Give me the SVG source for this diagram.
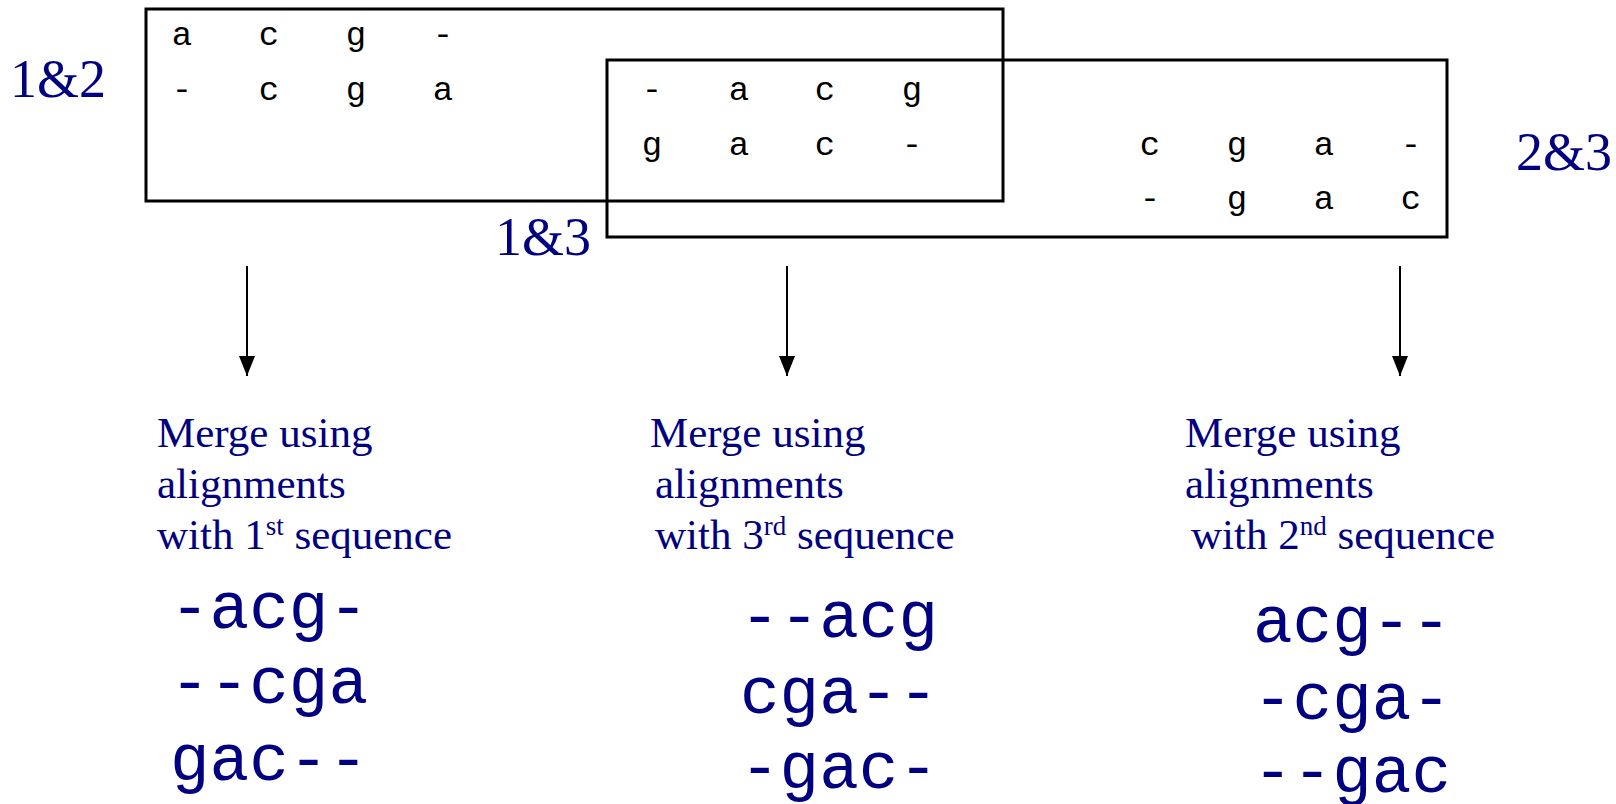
<svg xmlns="http://www.w3.org/2000/svg" width="1616" height="804" viewBox="0 0 1616 804">
  <style>
    .frame { fill: none; stroke: #000; stroke-width: 3; }
    .res { font-family: "Liberation Mono", "DejaVu Sans Mono", monospace; font-size: 34px; fill: #000; text-anchor: middle; }
    .pair { font-family: "Liberation Serif", "Times New Roman", serif; font-size: 54px; fill: #000080; }
    .note { font-family: "Liberation Serif", "Times New Roman", serif; font-size: 43px; fill: #000080; }
    .sup { font-size: 27px; }
    .msa { font-family: "Liberation Mono", "Courier New", monospace; font-size: 66px; fill: #000080; white-space: pre; }
    .link { stroke: #000; stroke-width: 2; fill: none; marker-end: url(#head); }
  </style>
  <defs>
    <marker id="head" markerUnits="userSpaceOnUse" markerWidth="20" markerHeight="20" refX="20" refY="8" orient="auto">
      <path d="M0,0 L20,8 L0,16 Z" fill="#000"/>
    </marker>
  </defs>
  <rect width="1616" height="804" fill="#fff"/>

  <!-- pairwise alignment of sequences 1 and 2 -->
  <g id="align-1-2">
    <rect class="frame" x="146" y="9" width="857" height="192"/>
    <text class="res" y="45"><tspan x="182">a</tspan><tspan x="269">c</tspan><tspan x="356">g</tspan><tspan x="443">-</tspan></text>
    <text class="res" y="100"><tspan x="182">-</tspan><tspan x="269">c</tspan><tspan x="356">g</tspan><tspan x="443">a</tspan></text>
    <text class="pair" x="10" y="97">1&amp;2</text>
  </g>

  <!-- pairwise alignments 1&3 and 2&3 -->
  <g id="align-1-3-2-3">
    <rect class="frame" x="607" y="60" width="840" height="177"/>
    <text class="res" y="100"><tspan x="652">-</tspan><tspan x="739">a</tspan><tspan x="825">c</tspan><tspan x="912">g</tspan></text>
    <text class="res" y="155"><tspan x="652">g</tspan><tspan x="739">a</tspan><tspan x="825">c</tspan><tspan x="912">-</tspan></text>
    <text class="res" y="155"><tspan x="1150">c</tspan><tspan x="1237">g</tspan><tspan x="1324">a</tspan><tspan x="1411">-</tspan></text>
    <text class="res" y="209"><tspan x="1150">-</tspan><tspan x="1237">g</tspan><tspan x="1324">a</tspan><tspan x="1411">c</tspan></text>
    <text class="pair" x="495" y="255">1&amp;3</text>
    <text class="pair" x="1516" y="170">2&amp;3</text>
  </g>

  <!-- arrows -->
  <g id="connectors">
    <line class="link" x1="247" y1="266" x2="247" y2="376"/>
    <line class="link" x1="787" y1="266" x2="787" y2="376"/>
    <line class="link" x1="1400" y1="266" x2="1400" y2="376"/>
  </g>

  <!-- merged result anchored on sequence 1 -->
  <g id="merge-1">
    <text class="note" x="157" y="447">Merge using</text>
    <text class="note" x="157" y="498">alignments</text>
    <text class="note" x="157" y="549">with 1<tspan class="sup" dy="-14">st</tspan><tspan dy="14"> sequence</tspan></text>
    <text class="msa" x="170" y="628">-acg-</text>
    <text class="msa" x="170" y="703">--cga</text>
    <text class="msa" x="170" y="780">gac--</text>
  </g>

  <!-- merged result anchored on sequence 3 -->
  <g id="merge-3">
    <text class="note" x="650" y="447">Merge using</text>
    <text class="note" x="655" y="498">alignments</text>
    <text class="note" x="655" y="549">with 3<tspan class="sup" dy="-14">rd</tspan><tspan dy="14"> sequence</tspan></text>
    <text class="msa" x="740" y="637">--acg</text>
    <text class="msa" x="740" y="713">cga--</text>
    <text class="msa" x="740" y="788">-gac-</text>
  </g>

  <!-- merged result anchored on sequence 2 -->
  <g id="merge-2">
    <text class="note" x="1185" y="447">Merge using</text>
    <text class="note" x="1185" y="498">alignments</text>
    <text class="note" x="1191" y="549">with 2<tspan class="sup" dy="-14">nd</tspan><tspan dy="14"> sequence</tspan></text>
    <text class="msa" x="1253" y="642">acg--</text>
    <text class="msa" x="1253" y="719">-cga-</text>
    <text class="msa" x="1253" y="792">--gac</text>
  </g>
</svg>
